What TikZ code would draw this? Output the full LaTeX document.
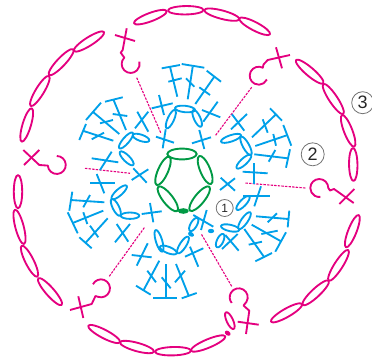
\documentclass[tikz,border=0pt]{standalone}
\usepackage{xcolor}
\usepackage{fontspec}
\setmainfont{Liberation Sans}
\definecolor{stpink}{HTML}{E4007F}
\definecolor{stblue}{HTML}{00A0E9}
\definecolor{stgreen}{HTML}{009944}
\newcommand{\chainoval}[6]{%
  \pgfmathsetmacro\mx{(#2+#4)/2}%
  \pgfmathsetmacro\my{(#3+#5)/2}%
  \pgfmathsetmacro\rlong{veclen(#4-#2,#5-#3)/2}%
  \pgfmathsetmacro\ang{atan2(#3-#5,#4-#2)}%
  \draw[#1,rotate around={\ang:(\mx,\my)}] (\mx,\my) ellipse [x radius=\rlong pt, y radius=#6 pt];}

\begin{document}
\begin{tikzpicture}[x=1pt,y=-1pt,line join=round,
  pinkst/.style={stpink,line width=1.85pt},
  bluest/.style={stblue,line width=1.85pt},
  greenst/.style={stgreen,line width=1.9pt},
  guide/.style={stpink,line width=1.1pt,dash pattern=on 2.4pt off 1.2pt},
  roundno/.style={circle,draw=black!55,line width=0.8pt,inner sep=0pt,text=black!85}]
  \useasboundingbox (0,0) rectangle (372,359);

  \foreach \xa/\ya/\xb/\yb in {21.7/141.7/31.7/108.3,30.7/106/49/76,49/75/73.3/49.3,74/51/104/32,
    134/23.3/166.7/11,168/10.5/203.5/10,204.3/10/239.3/19.3,239.3/18.3/270/34.3,
    296/60/323.3/83.3,323.3/84/343.3/114,342/115/354.3/146.7,353/148/353.5/181,
    346/247.3/358.7/215,328.7/280.7/348.3/250,302.7/305/328.7/280.7,271/321.7/302/304,
    88.3/325.7/120/342.3,120/342.3/154/351.7,155/351.7/191/350.7,191/350.7/225.3/336.3,
    18/175/18/208.3,15/209.7/24/244,21.7/245.7/37.3/276.7,38.3/278.3/61.7/305}
    {\chainoval{pinkst}{\xa}{\ya}{\xb}{\yb}{4.2}}
  \chainoval{pinkst}{226}{312.3}{233.7}{329}{3.2}
  \fill[stpink,rotate around={-35:(227.7,333.2)}] (227.7,333.2) ellipse [x radius=3.2pt, y radius=2.2pt];

  \draw[pinkst] (115,35) -- (135,41);
  \draw[pinkst] (126.7,28.3) -- (122.7,50) -- (120.7,52.7) -- (124.3,57.6) arc[start angle=225,end angle=-15,radius=9];
  \draw[pinkst] (276,47.3) -- (282,68.3);
  \draw[pinkst] (290,55) -- (267.7,60) -- (263.5,64.5) -- (262.8,67.7) arc[start angle=-63,end angle=-335,radius=9];
  \draw[pinkst] (339.3,204) -- (354.3,189);
  \draw[pinkst] (353.7,203) -- (334,189) -- (330,190.5) -- (328.3,188) arc[start angle=0,end angle=-277,radius=9];
  \draw[pinkst] (237.7,321.7) -- (258.7,324.7);
  \draw[pinkst] (246,334) -- (249.3,310.7) -- (243.5,305.5) -- (246.5,301.8) arc[start angle=390,end angle=141,radius=9];
  \draw[pinkst] (78.3,296.3) -- (83.3,318);
  \draw[pinkst] (70,310) -- (91.7,304) -- (95.5,296) -- (97.9,296.8) arc[start angle=110,end angle=-153,radius=9];
  \draw[pinkst] (24,165) -- (39.3,150);
  \draw[pinkst] (23.3,150) -- (39.3,165) -- (47.8,165.6) arc[start angle=176,end angle=-90,radius=9];

  \draw[guide] (136.7,77.7) -- (160.7,132.7);
  \draw[guide] (251.7,87.3) -- (215.3,135.7);
  \draw[guide] (305.3,188) -- (245.3,183);
  \draw[guide] (231.7,286.3) -- (201.3,234);
  \draw[guide] (109.3,276.3) -- (145,226.7);
  \draw[guide] (85,168.3) -- (130,173.3);

  \foreach \xa/\ya/\xb/\yb in {
    105/101.7/122.7/97.3,113.3/99.3/126/130,112.7/114/127.3/116,
    86/120/101/102.7,92.7/111.7/119.3/134,100/123.3/113/120,
    79.3/140/86/124,82.7/130.7/113.3/140.7,91.7/139.3/104/132.7,
    135/128.3/148.3/111.7,137.3/111.7/148.3/131.7,
    165.7/129.3/162.7/148.3,156/136.7/174/142.7,
    151.7/108.3/172.7/103.3,159/95/164/115,
    161.7/68.3/180/65,170/66.7/177.3/96.7,168.3/81.7/181.7/78.3,
    181.7/64/204.3/67.7,192.7/66.7/187.7/99.3,186/78.3/194.3/86.7,
    206.7/70.7/221/81.7,214.3/76.7/195.3/104,199.3/87.3/210/95,
    203.3/121.7/217.7/101.7,202/110/220.3/117.3,
    192/143.3/211/137.3,199.3/130/204.3/149,
    232/114.3/244.3/130.7,231/129.3/247/114,
    270/108.3/282/120.7,252/137.3/276/114.3,262.7/119.3/267.7/132.7,
    283.3/125/291.3/145.7,255.3/146/287.7/135,273.3/134/276/145.7,
    290/149.3/286/167.7,254.3/154.3/287.7/158.3,275.3/150/268.7/161.7,
    242.7/171.7/267.7/173.3,254.3/163.3/254.3/184,
    220/190/235/178.3,220.7/177.7/235/190.7,
    243.3/195.7/270.3/195.7,261/186.3/254.3/206.3,
    225.3/235/238.7/250.7,222/249/237.7/234,
    289.3/210.7/287.7/227.3,256/216.3/288.3/219,267.7/222.3/277/213.3,
    286/232.3/275.3/251.7,251.7/224.7/281/241.3,261.3/234/277.7/230.7,
    272/253/255.3/261.3,244.3/229/264.3/257.3,248.7/244.7/262/241.7,
    193.3/215/213.3/226.7,206.7/210/201/230,
    185/256.7/203.3/248.3,190/246.7/198.3/266.7,
    131.7/255/151.7/257.3,147.7/243.3/136.7/265.7,
    136/285.7/150.7/294.7,159.3/260.7/143.3/290.7,147.3/270.7/156/282.3,
    153.3/298.3/176.7/298.3,165.7/264/165.7/298.3,161.7/277.3/170.7/288.3,
    181.7/298.3/196.7/293,176/264/188.7/295.7,175/282.3/185/270.7,
    141.7/214/161.7/211.3,150/203/153.3/222.3,
    115/242.3/130/224,116.7/224/128.3/241.7,
    72.3/191.7/69.3/210.7,70.7/200/104.3/202.3,90/195/83.3/207.3,
    67.7/212.3/77.7/233.3,72.7/223/103.3/210.7,83.3/212.3/87.3/224,
    79.3/237.3/91.7/248.3,86/242.3/107.7/218.3,90/225.7/98.3/237.3,
    90/183.3/115/183.3,96.7/174/104.3/193.3,
    91.7/158.3/118.3/162.3,111.7/151.7/100/170,
    131.7/180/148.3/169.3,133.3/168.3/146.7/182.7}
    {\draw[bluest] (\xa,\ya) -- (\xb,\yb);}

  \foreach \xa/\ya/\xb/\yb in {119.3/148.3/132.7/132.7,132.7/135/149.3/140.7,120/151.7/133.3/165,
    166.7/128.3/175/110,175/108/195/110,193.3/110/201/126.7,
    221/141.7/241/135,241/136.7/251/155,236.7/168.3/251/155,
    236.7/209.7/249.3/196.3,238.7/229/250.3/212.3,221/226/239.3/230,217/247.3/223.3/234,
    155.7/230/162.3/251.7,160/246.7/176.7/253.3,177.7/253.3/188.3/236.7,190/231/197.5/218,
    111.7/199/126.7/185.7,111.7/199/120/215.7,120.7/215.7/139.3/215.7}
    {\chainoval{bluest}{\xa}{\ya}{\xb}{\yb}{3.2}}
  \fill[stblue,rotate around={-30:(191,234.3)}] (191,234.3) ellipse [x radius=3.2pt, y radius=2.2pt];
  \fill[stblue] (211,231) ellipse [x radius=3.2pt, y radius=2.2pt];

  \chainoval{greenst}{167.3}{154}{196.7}{154}{5.4}
  \chainoval{greenst}{156.7}{185}{169.3}{156.7}{5}
  \chainoval{greenst}{199.3}{156}{211}{184}{5}
  \chainoval{greenst}{158.3}{186.7}{177.3}{211}{5}
  \chainoval{greenst}{190}{210.7}{209.3}{186.7}{5}
  \fill[stgreen] (183.3,211) ellipse [x radius=5.5pt, y radius=2.8pt];

  \node[roundno,minimum size=17pt,font=\fontsize{12}{12}\selectfont] (one) at (224.7,208) {1};
  \node[roundno,minimum size=23pt,font=\fontsize{18}{18}\selectfont] (two) at (312.7,154.3) {2};
  \node[roundno,minimum size=22pt,font=\fontsize{18}{18}\selectfont] (three) at (362.7,102.7) {3};
\end{tikzpicture}
\end{document}
